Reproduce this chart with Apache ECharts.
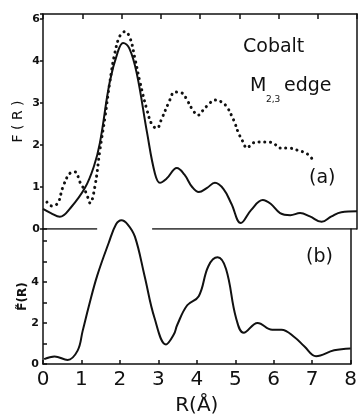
<!DOCTYPE html>
<html>
<head>
<meta charset="utf-8">
<script src="https://cdn.jsdelivr.net/npm/echarts@6/dist/echarts.min.js"></script>
<style>
  html, body { margin: 0; padding: 0; background: #fff; }
  #chart { width: 360px; height: 417px; }
</style>
</head>
<body>
<div id="chart"></div>
<script>
// panel (a): F(R), solid curve
const solidR = [0, 0.2, 0.43, 0.7, 1.07, 1.3, 1.45, 1.7, 1.9, 2.04, 2.2, 2.39, 2.65, 2.85, 2.98, 3.15, 3.41, 3.6, 3.8, 3.97, 4.18, 4.38, 4.6, 4.8, 5.04, 5.3, 5.6, 5.8, 6.04, 6.3, 6.55, 6.8, 7.1, 7.35, 7.6, 8.0];
const solidF = [0.48, 0.38, 0.29, 0.5, 0.98, 1.5, 2.05, 3.5, 4.2, 4.43, 4.3, 3.7, 2.3, 1.33, 1.1, 1.2, 1.45, 1.3, 1.0, 0.88, 0.98, 1.1, 0.95, 0.6, 0.14, 0.45, 0.69, 0.6, 0.38, 0.33, 0.38, 0.3, 0.17, 0.3, 0.4, 0.42];

// panel (a): dotted curve
const dotR = [0.1, 0.22, 0.38, 0.5, 0.69, 0.82, 0.94, 1.1, 1.2, 1.32, 1.45, 1.58, 1.7, 1.83, 1.96, 2.09, 2.22, 2.34, 2.47, 2.65, 2.78, 2.9, 3.03, 3.2, 3.36, 3.54, 3.67, 3.82, 3.95, 4.08, 4.2, 4.38, 4.56, 4.69, 4.8, 4.89, 4.97, 5.07, 5.2, 5.35, 5.53, 5.7, 5.86, 6.04, 6.24, 6.47, 6.73, 6.88];
const dotF = [0.64, 0.55, 0.62, 0.98, 1.33, 1.36, 1.12, 0.86, 0.62, 1.0, 1.88, 2.67, 3.48, 4.19, 4.6, 4.7, 4.54, 4.07, 3.5, 2.83, 2.48, 2.4, 2.64, 3.0, 3.26, 3.24, 3.07, 2.83, 2.71, 2.83, 2.95, 3.07, 3.02, 2.9, 2.71, 2.52, 2.31, 2.12, 1.93, 2.05, 2.07, 2.07, 2.05, 1.93, 1.93, 1.88, 1.79, 1.64];

// zero line of panel (a), broken where curve (b) passes
const baseR = [0, 1.38, 2.1, 2.78, 8];
const baseF = [0, 0, '-', 0, 0];

// panel (b): F~(R)
const tildeR = [0.03, 0.3, 0.64, 0.9, 1.03, 1.2, 1.41, 1.71, 1.9, 2.04, 2.2, 2.39, 2.64, 2.9, 3.2, 3.4, 3.49, 3.75, 4.05, 4.3, 4.54, 4.76, 5.02, 5.22, 5.58, 5.96, 6.2, 6.55, 6.8, 7.1, 7.57, 8.0];
const tildeF = [0.24, 0.37, 0.2, 0.65, 1.6, 2.87, 4.3, 5.9, 6.8, 7.0, 6.8, 6.2, 4.3, 2.24, 0.95, 1.43, 1.9, 2.86, 3.3, 4.76, 5.19, 4.62, 2.24, 1.52, 2.0, 1.67, 1.67, 1.29, 0.85, 0.38, 0.67, 0.76];

// tick labels
const upperLabels = { 0: '0', 1: '1', 2: '2', 3: '3', 4: '4', 5: '6' };
const lowerLabels = { 0: '0', 2: '2', 4: '4' };

const pairs = (xs, ys) => xs.map((x, i) => [x, ys[i]]);
const font = 'DejaVu Sans';
const black = '#111';
const line = { show: true, onZero: false, lineStyle: { color: black, width: 1.5 } };

const chart = echarts.init(document.getElementById('chart'));

chart.setOption({
  animation: false,
  grid: [
    { left: 43, right: 3, top: 14, height: 215 },
    { left: 43, right: 3, top: 229, height: 138 }
  ],
  xAxis: [
    { type: 'value', gridIndex: 0, min: 0, max: 8, interval: 1, position: 'bottom',
      axisLine: { show: false, onZero: false }, axisTick: { show: false }, axisLabel: { show: false }, splitLine: { show: false } },
    { type: 'value', gridIndex: 0, min: 0, max: 8, interval: 1, position: 'top',
      axisLine: line,
      axisTick: { show: true, inside: true, length: 5, lineStyle: { color: black, width: 1.5 } },
      axisLabel: { show: false }, splitLine: { show: false } },
    { type: 'value', gridIndex: 1, min: 0, max: 8, interval: 1, position: 'bottom',
      axisLine: line,
      axisTick: { show: true, inside: true, length: 4, lineStyle: { color: black, width: 1.5 } },
      axisLabel: { color: black, fontSize: 20, fontFamily: font, margin: 6 },
      splitLine: { show: false },
      name: 'R(Å)', nameLocation: 'middle', nameGap: 32,
      nameTextStyle: { color: black, fontSize: 20, fontFamily: font } }
  ],
  yAxis: [
    { type: 'value', gridIndex: 0, min: 0, max: 5.12, interval: 1,
      axisLine: line,
      axisTick: { show: true, length: 3, lineStyle: { color: black, width: 1.5 } },
      axisLabel: { color: black, fontSize: 11, fontWeight: 'bold', fontFamily: font, margin: 3,
        formatter: v => upperLabels[v] !== undefined ? upperLabels[v] : '' },
      splitLine: { show: false },
      name: 'F ( R )', nameLocation: 'middle', nameGap: 18, nameMoveOverlap: false,
      nameTextStyle: { color: black, fontSize: 14, fontFamily: font } },
    { type: 'value', gridIndex: 1, min: 0, max: 6.57, interval: 1,
      axisLine: line,
      axisTick: { show: true, inside: true, length: 4, lineStyle: { color: black, width: 1.5 } },
      axisLabel: { color: black, fontSize: 11, fontWeight: 'bold', fontFamily: font, margin: 4,
        formatter: v => lowerLabels[v] !== undefined ? lowerLabels[v] : '' },
      splitLine: { show: false },
      name: 'F\u0303(R)', nameLocation: 'middle', nameGap: 14, nameMoveOverlap: false,
      nameTextStyle: { color: black, fontSize: 12, fontWeight: 'bold', fontFamily: font } },
    { type: 'value', gridIndex: 0, position: 'right', min: 0, max: 5.12,
      axisLine: line, axisTick: { show: false }, axisLabel: { show: false }, splitLine: { show: false } },
    { type: 'value', gridIndex: 1, position: 'right', min: 0, max: 6.57,
      axisLine: line, axisTick: { show: false }, axisLabel: { show: false }, splitLine: { show: false } }
  ],
  series: [
    { name: 'F(R) solid', type: 'line', xAxisIndex: 0, yAxisIndex: 0, data: pairs(solidR, solidF),
      smooth: 0.4, showSymbol: false, clip: false,
      lineStyle: { color: black, width: 2 } },
    { name: 'F(R) dotted', type: 'line', xAxisIndex: 0, yAxisIndex: 0, data: pairs(dotR, dotF),
      smooth: 0.4, showSymbol: false, clip: false,
      lineStyle: { color: black, width: 3, type: [0.1, 5.6], cap: 'round' } },
    { name: 'zero', type: 'line', xAxisIndex: 0, yAxisIndex: 0, data: pairs(baseR, baseF),
      showSymbol: false, connectNulls: false,
      lineStyle: { color: black, width: 1.5 } },
    { name: 'F~(R)', type: 'line', xAxisIndex: 2, yAxisIndex: 1, data: pairs(tildeR, tildeF),
      smooth: 0.4, showSymbol: false, clip: false,
      lineStyle: { color: black, width: 2 } }
  ],
  graphic: [
    { type: 'text', left: 243, top: 38, style: { text: 'Cobalt', fontSize: 19, fontFamily: font, fill: black } },
    { type: 'text', left: 250, top: 77, style: { text: 'M', fontSize: 19, fontFamily: font, fill: black } },
    { type: 'text', left: 266, top: 95, style: { text: '2,3', fontSize: 9, fontFamily: font, fill: black } },
    { type: 'text', left: 284, top: 77, style: { text: 'edge', fontSize: 19, fontFamily: font, fill: black } },
    { type: 'text', left: 309, top: 169, style: { text: '(a)', fontSize: 19, fontFamily: font, fill: black } },
    { type: 'text', left: 306, top: 248, style: { text: '(b)', fontSize: 19, fontFamily: font, fill: black } }
  ]
});
</script>
</body>
</html>
